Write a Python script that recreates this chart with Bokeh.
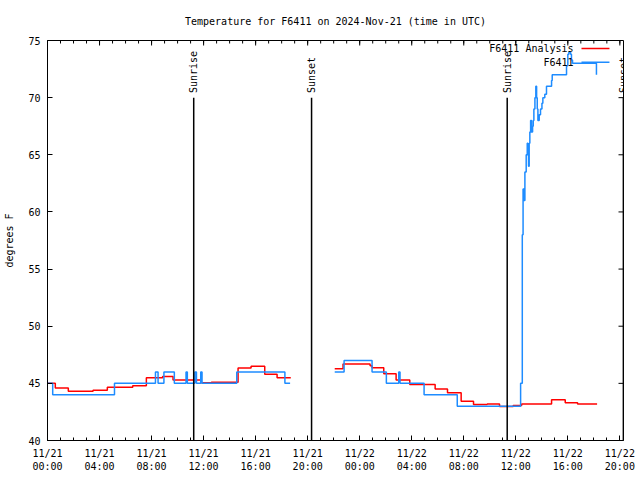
import math
from bokeh.plotting import figure
from bokeh.models import (Range1d, FixedTicker, Label, LabelSet, Arrow, ColumnDataSource)
from bokeh.core.properties import value
from bokeh.embed import file_html
from bokeh.resources import INLINE

FONT = "DejaVu Sans Mono"

# ---- data (x = hours since 2024-11-21 00:00 UTC) ----
obs_hours_a = [0.0, 0.4, 5.15, 8.3, 8.5, 8.95, 9.75, 10.65, 10.75, 11.33, 11.45, 11.78, 11.88,
               14.55, 18.25, 18.65]
obs_temp_a = [45, 44, 45, 46, 45, 46, 45, 46, 45, 46, 45, 46, 45, 46, 45, 45]

ana_hours_a = [0.0, 0.6, 1.6, 3.5, 4.6, 6.55, 7.6, 8.85, 9.65, 11.8, 12.6, 14.65, 15.65, 16.7,
               17.65, 18.7]
ana_temp_a = [45.0, 44.6, 44.3, 44.4, 44.65, 44.8, 45.5, 45.6, 45.3, 45.05, 45.1, 46.35, 46.5,
              45.8, 45.5, 45.5]

obs_hours_b = [22.08, 22.8, 24.95, 26.05, 27.0, 27.1, 28.95, 31.5,
               36.37, 36.5, 36.56, 36.62, 36.70, 36.80, 36.88, 36.93, 36.98, 37.03,
               37.08, 37.14, 37.21, 37.29, 37.34, 37.39, 37.47, 37.54, 37.60, 37.65,
               37.70, 37.80, 37.90, 38.01, 38.08, 38.23, 38.36, 38.75, 38.80, 39.90,
               40.00, 40.08, 40.21, 40.28, 40.36, 42.2]
obs_temp_b = [46, 47, 46, 45, 46, 45, 44, 43,
              45, 58, 62, 61, 63.5, 65, 66, 65, 64, 66,
              67, 68, 67, 67.5, 68, 69, 70, 71, 70, 69,
              68, 68.5, 69, 69.5, 70, 70.3, 71, 71.5, 72, 72.8,
              73.8, 74, 73.8, 73.3, 73, 72]

ana_hours_b = [22.08, 22.72, 24.8, 24.95, 25.85, 26.8, 27.85, 29.8, 30.75, 31.8, 32.75, 33.8,
               34.75, 35.8, 36.45, 38.75, 39.8, 40.75, 42.25]
ana_temp_b = [46.27, 46.7, 46.55, 46.36, 45.83, 45.3, 44.9, 44.5, 44.17, 43.44, 43.15, 43.2,
              42.97, 43.06, 43.2, 43.56, 43.3, 43.2, 43.2]

sun_hours = [11.24, 20.3, 35.34, 44.27]
sun_labels = ["Sunrise", "Sunset", "Sunrise", "Sunset"]

x_tick_hours = [0, 4, 8, 12, 16, 20, 24, 28, 32, 36, 40, 44]
x_minor_hours = list(range(0, 45))
x_tick_labels = ["11/21\n00:00", "11/21\n04:00", "11/21\n08:00", "11/21\n12:00",
                 "11/21\n16:00", "11/21\n20:00", "11/22\n00:00", "11/22\n04:00",
                 "11/22\n08:00", "11/22\n12:00", "11/22\n16:00", "11/22\n20:00"]
y_ticks = [40, 45, 50, 55, 60, 65, 70, 75]

X_START, X_END = 0, 44.28
Y_START, Y_END = 40, 75

RED = "#ff0000"
BLUE = "#1e8cff"

p = figure(width=640, height=480, output_backend="svg", toolbar_location=None,
           x_range=Range1d(X_START, X_END), y_range=Range1d(Y_START, Y_END),
           min_border_left=47, min_border_right=17, min_border_top=40, min_border_bottom=40)
p.background_fill_color = "white"
p.border_fill_color = "white"
p.outline_line_color = "black"
p.outline_line_width = 1
p.xgrid.visible = False
p.ygrid.visible = False

p.title.text = "Temperature for F6411 on 2024-Nov-21 (time in UTC)"
p.title.align = "center"
p.title.text_font = FONT
p.title.text_font_size = "10px"
p.title.text_font_style = "normal"
p.title.text_color = "black"
p.title.standoff = 27

def style_axis(ax):
    ax.axis_line_color = "black"
    ax.major_tick_in = 5
    ax.major_tick_out = 0
    ax.minor_tick_in = 3
    ax.minor_tick_out = 0
    ax.major_tick_line_color = "black"
    ax.minor_tick_line_color = "black"
    ax.major_label_text_font = FONT
    ax.major_label_text_font_size = "10px"
    ax.major_label_text_color = "black"

xa = p.xaxis[0]
xa.ticker = FixedTicker(ticks=x_tick_hours, minor_ticks=x_minor_hours)
xa.major_label_overrides = {h: lab for h, lab in zip(x_tick_hours, x_tick_labels)}
style_axis(xa)
xa.major_label_standoff = 7

ya = p.yaxis[0]
ya.ticker = FixedTicker(ticks=y_ticks, minor_ticks=[])
style_axis(ya)
ya.major_label_standoff = 7
ya.axis_label = "degrees F"
ya.axis_label_text_font = FONT
ya.axis_label_text_font_size = "10px"
ya.axis_label_text_font_style = "normal"
ya.axis_label_text_color = "black"
ya.axis_label_standoff = 10

# mirrored ticks on the top and right borders (gnuplot style)
p.ray(x=x_tick_hours, y=[Y_END] * len(x_tick_hours), length=5, length_units="screen",
      angle=-math.pi / 2, line_color="black", line_width=1)
p.ray(x=x_minor_hours, y=[Y_END] * len(x_minor_hours), length=3, length_units="screen",
      angle=-math.pi / 2, line_color="black", line_width=1)
p.ray(x=[X_END] * len(y_ticks), y=y_ticks, length=5, length_units="screen",
      angle=math.pi, line_color="black", line_width=1)

# ---- series ----
for hrs, tmp in ((ana_hours_a, ana_temp_a), (ana_hours_b, ana_temp_b)):
    p.step(hrs, tmp, mode="after", line_color=RED, line_width=1.5)
for hrs, tmp in ((obs_hours_a, obs_temp_a), (obs_hours_b, obs_temp_b)):
    p.step(hrs, tmp, mode="after", line_color=BLUE, line_width=1.5)

# ---- sunrise / sunset markers ----
sun_src = ColumnDataSource(dict(x=sun_hours, y0=[40] * len(sun_hours), y1=[70] * len(sun_hours),
                                ylab=[70.4] * len(sun_hours), text=sun_labels))
p.segment(x0="x", y0="y0", x1="x", y1="y1", source=sun_src, line_color="black", line_width=1.5)
p.add_layout(LabelSet(x="x", y="ylab", text="text", source=sun_src, angle=math.pi / 2,
                      text_align="left", text_baseline="middle", text_font=value(FONT),
                      text_font_size=value("10px"), text_color="black"))

# ---- key (gnuplot style: text then line sample) ----
key_names = ["F6411 Analysis", "F6411"]
key_colors = [RED, BLUE]
key_y = [74.3, 73.1]
for name, col, ky in zip(key_names, key_colors, key_y):
    p.add_layout(Label(x=40.44, y=ky, text=name, text_align="right", text_baseline="middle",
                       text_font=FONT, text_font_size="10px", text_color="black"))
    p.add_layout(Arrow(end=None, x_start=41.05, y_start=ky, x_end=43.2, y_end=ky,
                       line_color=col, line_width=1.5))

open("out.html", "w").write(file_html(p, INLINE))
